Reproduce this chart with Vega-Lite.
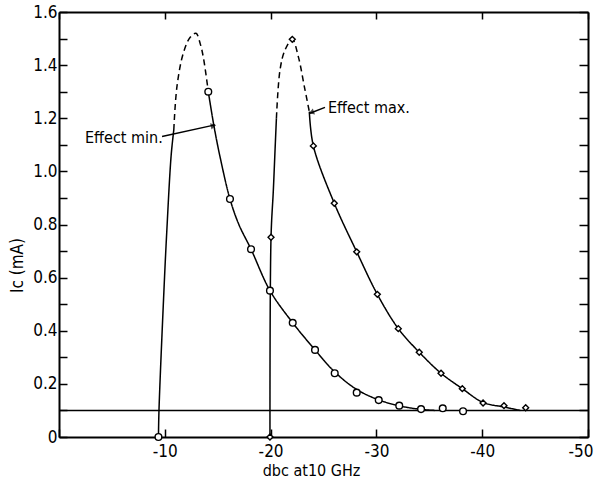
{
  "$schema": "https://vega.github.io/schema/vega-lite/v6.json",
  "width": 529,
  "height": 425,
  "autosize": {"type": "none"},
  "padding": {"left": 59, "top": 12, "right": 14, "bottom": 47},
  "background": "white",
  "config": {
    "view": {"stroke": null},
    "font": "DejaVu Sans Condensed, Liberation Sans, sans-serif",
    "axis": {"grid": false, "domainColor": "black", "tickColor": "black", "labelColor": "black", "titleColor": "black", "labelFont": "DejaVu Sans Condensed, Liberation Sans, sans-serif", "titleFont": "DejaVu Sans Condensed, Liberation Sans, sans-serif", "titleFontWeight": "normal"}
  },
  "datasets": {
    "curves": [
      {"seg": "min1", "style": "solid", "x": -9.4, "y": 0},
      {"seg": "min1", "style": "solid", "x": -9.45, "y": 0.1},
      {"seg": "min1", "style": "solid", "x": -9.92, "y": 0.553},
      {"seg": "min1", "style": "solid", "x": -10.18, "y": 0.768},
      {"seg": "min1", "style": "solid", "x": -10.6, "y": 1.06},
      {"seg": "min1", "style": "solid", "x": -10.85, "y": 1.156},
      {"seg": "min2", "style": "dashed", "x": -10.85, "y": 1.156},
      {"seg": "min2", "style": "dashed", "x": -11.15, "y": 1.32},
      {"seg": "min2", "style": "dashed", "x": -11.75, "y": 1.445},
      {"seg": "min2", "style": "dashed", "x": -12.4, "y": 1.505},
      {"seg": "min2", "style": "dashed", "x": -12.95, "y": 1.52},
      {"seg": "min2", "style": "dashed", "x": -13.35, "y": 1.48},
      {"seg": "min2", "style": "dashed", "x": -13.64, "y": 1.43},
      {"seg": "min2", "style": "dashed", "x": -14.11, "y": 1.3},
      {"seg": "min3", "style": "solid", "x": -14.11, "y": 1.3},
      {"seg": "min3", "style": "solid", "x": -14.65, "y": 1.17},
      {"seg": "min3", "style": "solid", "x": -15.22, "y": 1.055},
      {"seg": "min3", "style": "solid", "x": -16.16, "y": 0.896},
      {"seg": "min3", "style": "solid", "x": -17.0, "y": 0.8},
      {"seg": "min3", "style": "solid", "x": -18.15, "y": 0.707},
      {"seg": "min3", "style": "solid", "x": -19.94, "y": 0.551},
      {"seg": "min3", "style": "solid", "x": -22.09, "y": 0.43},
      {"seg": "min3", "style": "solid", "x": -24.2, "y": 0.328},
      {"seg": "min3", "style": "solid", "x": -26.06, "y": 0.245},
      {"seg": "min3", "style": "solid", "x": -28.1, "y": 0.18},
      {"seg": "min3", "style": "solid", "x": -30.2, "y": 0.14},
      {"seg": "min3", "style": "solid", "x": -32.2, "y": 0.117},
      {"seg": "min3", "style": "solid", "x": -34.2, "y": 0.104},
      {"seg": "min3", "style": "solid", "x": -35.5, "y": 0.1},
      {"seg": "max1", "style": "solid", "x": -19.94, "y": 0},
      {"seg": "max1", "style": "solid", "x": -20.04, "y": 0.752},
      {"seg": "max1", "style": "solid", "x": -20.26, "y": 0.93},
      {"seg": "max1", "style": "solid", "x": -20.42, "y": 1.08},
      {"seg": "max1", "style": "solid", "x": -20.55, "y": 1.2},
      {"seg": "max2", "style": "dashed", "x": -20.55, "y": 1.2},
      {"seg": "max2", "style": "dashed", "x": -20.89, "y": 1.382},
      {"seg": "max2", "style": "dashed", "x": -21.36, "y": 1.457},
      {"seg": "max2", "style": "dashed", "x": -22.05, "y": 1.497},
      {"seg": "max2", "style": "dashed", "x": -22.62, "y": 1.432},
      {"seg": "max2", "style": "dashed", "x": -23.19, "y": 1.319},
      {"seg": "max2", "style": "dashed", "x": -23.66, "y": 1.225},
      {"seg": "max3", "style": "solid", "x": -23.66, "y": 1.225},
      {"seg": "max3", "style": "solid", "x": -24.04, "y": 1.096},
      {"seg": "max3", "style": "solid", "x": -26.02, "y": 0.88},
      {"seg": "max3", "style": "solid", "x": -28.14, "y": 0.697},
      {"seg": "max3", "style": "solid", "x": -30.09, "y": 0.537},
      {"seg": "max3", "style": "solid", "x": -32.07, "y": 0.408},
      {"seg": "max3", "style": "solid", "x": -34.05, "y": 0.319},
      {"seg": "max3", "style": "solid", "x": -36.11, "y": 0.24},
      {"seg": "max3", "style": "solid", "x": -38.12, "y": 0.182},
      {"seg": "max3", "style": "solid", "x": -40.08, "y": 0.13},
      {"seg": "max3", "style": "solid", "x": -42.06, "y": 0.113},
      {"seg": "max3", "style": "solid", "x": -43.6, "y": 0.1}
    ],
    "minPts": [
      {"x": -9.4, "y": 0}, {"x": -14.11, "y": 1.3}, {"x": -16.16, "y": 0.896},
      {"x": -18.15, "y": 0.707}, {"x": -19.94, "y": 0.551}, {"x": -22.09, "y": 0.43},
      {"x": -24.2, "y": 0.328}, {"x": -26.06, "y": 0.24}, {"x": -28.14, "y": 0.167},
      {"x": -30.22, "y": 0.139}, {"x": -32.16, "y": 0.118}, {"x": -34.22, "y": 0.105},
      {"x": -36.27, "y": 0.108}, {"x": -38.19, "y": 0.097}
    ],
    "maxPts": [
      {"x": -19.94, "y": 0}, {"x": -20.04, "y": 0.752}, {"x": -22.05, "y": 1.497},
      {"x": -24.04, "y": 1.096}, {"x": -26.02, "y": 0.88}, {"x": -28.14, "y": 0.697},
      {"x": -30.09, "y": 0.537}, {"x": -32.07, "y": 0.408}, {"x": -34.05, "y": 0.319},
      {"x": -36.11, "y": 0.24}, {"x": -38.12, "y": 0.182}, {"x": -40.08, "y": 0.128},
      {"x": -42.06, "y": 0.118}, {"x": -44.11, "y": 0.11}
    ],
    "baseline": [{"y": 0.1}],
    "arrows": [
      {"arrow": "min", "x": -9.74, "y": 1.131},
      {"arrow": "min", "x": -14.75, "y": 1.175},
      {"arrow": "max", "x": -25.14, "y": 1.241},
      {"arrow": "max", "x": -23.72, "y": 1.219}
    ],
    "tips": [
      {"arrow": "min", "x": -14.6, "y": 1.172},
      {"arrow": "max", "x": -23.85, "y": 1.222}
    ],
    "labels": [
      {"label": "Effect min.", "x": -2.46, "y": 1.127},
      {"label": "Effect max.", "x": -25.42, "y": 1.239}
    ]
  },
  "resolve": {"axis": {"x": "independent", "y": "independent"}},
  "layer": [
    {
      "data": {"name": "baseline"},
      "mark": {"type": "rule", "color": "black", "strokeWidth": 1.5},
      "encoding": {
        "y": {"field": "y", "type": "quantitative", "scale": {"domain": [0, 1.6]}, "axis": null}
      }
    },
    {
      "data": {"name": "curves"},
      "mark": {"type": "line", "color": "black", "strokeWidth": 1.5, "interpolate": "catmull-rom"},
      "encoding": {
        "x": {"field": "x", "type": "quantitative", "scale": {"domain": [-50, 0], "reverse": true, "nice": false, "zero": false},
          "axis": {"orient": "bottom", "values": [-50, -40, -30, -20, -10, 0], "labelExpr": "datum.value == 0 ? '' : '-' + abs(datum.value)",
            "tickSize": -8, "tickWidth": 1.5, "labelPadding": 14, "labelFontSize": 17, "labelFlush": true, "labelFlushOffset": 5,
            "domainWidth": 2, "title": "dbc at10 GHz", "titleFontSize": 16, "titleX": 252, "titleY": 33, "titleBaseline": "middle", "titleAlign": "center"}},
        "y": {"field": "y", "type": "quantitative", "scale": {"domain": [0, 1.6], "nice": false},
          "axis": {"orient": "left", "values": [0, 0.1, 0.2, 0.3, 0.4, 0.5, 0.6, 0.7, 0.8, 0.9, 1, 1.1, 1.2, 1.3, 1.4, 1.5, 1.6],
            "labelExpr": "datum.value == 0 ? '0' : (round(datum.value * 10) % 2 == 1 ? '' : format(datum.value, '.1f'))",
            "tickSize": -8, "tickWidth": 1.5, "labelPadding": 10, "labelFontSize": 17, "domainWidth": 2,
            "title": "Ic (mA)", "titleFontSize": 17, "titleX": -42, "titleY": 253, "titleAngle": -90, "titleBaseline": "middle", "titleAlign": "center"}},
        "detail": {"field": "seg"},
        "strokeDash": {"field": "style", "type": "nominal", "scale": {"domain": ["solid", "dashed"], "range": [[1, 0], [6, 4]]}, "legend": null}
      }
    },
    {
      "data": {"name": "arrows"},
      "mark": {"type": "line", "color": "black", "strokeWidth": 1.5},
      "encoding": {
        "x": {"field": "x", "type": "quantitative",
          "axis": {"orient": "top", "values": [-50, -40, -30, -20, -10, 0], "labels": false, "title": null, "tickSize": -7, "tickWidth": 1.5, "domainWidth": 2}},
        "y": {"field": "y", "type": "quantitative",
          "axis": {"orient": "right", "values": [0, 0.1, 0.2, 0.3, 0.4, 0.5, 0.6, 0.7, 0.8, 0.9, 1, 1.1, 1.2, 1.3, 1.4, 1.5, 1.6], "labels": false, "title": null, "tickSize": -9, "tickWidth": 1.5, "domainWidth": 2}},
        "detail": {"field": "arrow"}
      }
    },
    {
      "data": {"name": "tips"},
      "transform": [{"filter": "datum.arrow == 'min'"}],
      "mark": {"type": "point", "shape": "triangle-right", "angle": -13, "filled": true, "color": "black", "size": 40},
      "encoding": {
        "x": {"field": "x", "type": "quantitative", "axis": null},
        "y": {"field": "y", "type": "quantitative", "axis": null}
      }
    },
    {
      "data": {"name": "tips"},
      "transform": [{"filter": "datum.arrow == 'max'"}],
      "mark": {"type": "point", "shape": "triangle-left", "angle": -20, "filled": true, "color": "black", "size": 40},
      "encoding": {
        "x": {"field": "x", "type": "quantitative", "axis": null},
        "y": {"field": "y", "type": "quantitative", "axis": null}
      }
    },
    {
      "data": {"name": "minPts"},
      "mark": {"type": "point", "shape": "circle", "filled": true, "fill": "white", "stroke": "black", "strokeWidth": 1.4, "size": 45, "opacity": 1},
      "encoding": {
        "x": {"field": "x", "type": "quantitative", "axis": null},
        "y": {"field": "y", "type": "quantitative", "axis": null}
      }
    },
    {
      "data": {"name": "maxPts"},
      "mark": {"type": "point", "shape": "diamond", "filled": true, "fill": "white", "stroke": "black", "strokeWidth": 1.4, "size": 35, "opacity": 1},
      "encoding": {
        "x": {"field": "x", "type": "quantitative", "axis": null},
        "y": {"field": "y", "type": "quantitative", "axis": null}
      }
    },
    {
      "data": {"name": "labels"},
      "mark": {"type": "text", "align": "left", "baseline": "middle", "fontSize": 16, "font": "DejaVu Sans Condensed, Liberation Sans, sans-serif", "color": "black"},
      "encoding": {
        "x": {"field": "x", "type": "quantitative", "axis": null},
        "y": {"field": "y", "type": "quantitative", "axis": null},
        "text": {"field": "label"}
      }
    }
  ]
}
